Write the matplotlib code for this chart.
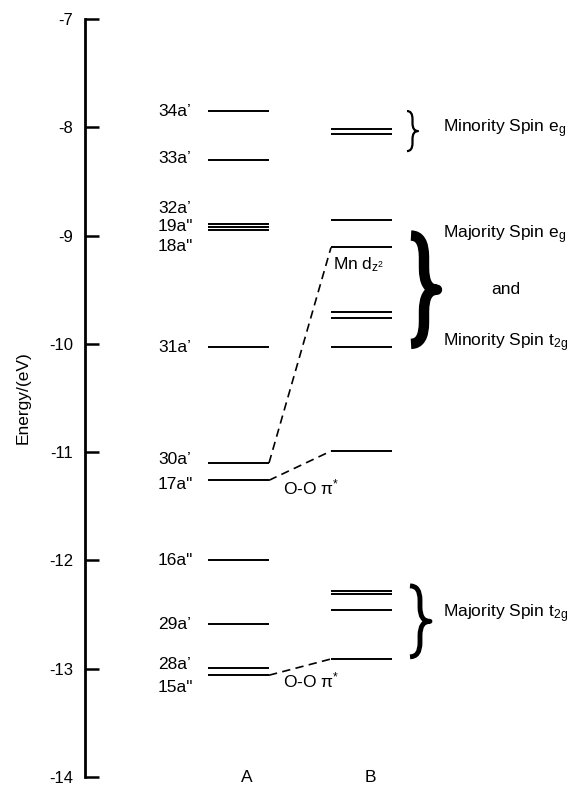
import matplotlib
matplotlib.use('Agg')
import matplotlib.pyplot as plt
from matplotlib.path import Path
from matplotlib.patches import PathPatch

plt.rcParams['font.family'] = ['Liberation Sans', 'DejaVu Sans']
plt.rcParams['mathtext.fontset'] = 'custom'
plt.rcParams['mathtext.rm'] = 'Liberation Sans'
plt.rcParams['mathtext.it'] = 'Liberation Sans:italic'
plt.rcParams['mathtext.bf'] = 'Liberation Sans:bold'

# orbital energies, eV
a_labels = ['34a’', '33a’', '32a’', '19a"', '18a"', '31a’',
            '30a’', '17a"', '16a"', '29a’', '28a’', '15a"']
a_levels = [-7.85, -8.30, -8.89, -8.92, -8.95, -10.03,
            -11.10, -11.26, -12.00, -12.59, -12.99, -13.06]
# where the A labels sit (spread out where levels crowd)
a_label_y = [-7.85, -8.29, -8.75, -8.92, -9.10, -10.03,
             -11.07, -11.30, -12.00, -12.59, -12.965, -13.17]
b_levels = [-8.02, -8.06, -8.86, -9.11, -9.71, -9.76,
            -10.03, -10.99, -12.28, -12.31, -12.46, -12.91]
# correlation lines: (index in A, index in B)
links = [(6, 3), (7, 7), (11, 11)]

yticks = [-7, -8, -9, -10, -11, -12, -13, -14]

# brace groups: (top, bottom, text lines)
groups = [
    (-7.85, -8.22, ['Minority Spin e$_\\mathregular{g}$']),
    (-9.00, -10.00, ['Majority Spin e$_\\mathregular{g}$', 'and',
                     'Minority Spin t$_\\mathregular{2g}$']),
    (-12.235, -12.89, ['Majority Spin t$_\\mathregular{2g}$']),
]

W, H = 572, 785
fig = plt.figure(figsize=(W/100, H/100), dpi=100)
ax = fig.add_axes([85/W, 8/H, (W-85)/W, 758/H])
ax.set_xlim(85, W)
ax.set_ylim(-14, -7)

for s in ['top', 'right', 'bottom']:
    ax.spines[s].set_visible(False)
ax.spines['left'].set_linewidth(2.0)
ax.set_xticks([])
ax.set_yticks(yticks)
ax.set_yticklabels([str(t) for t in yticks])
ax.tick_params(axis='y', direction='in', length=10, width=1.8, pad=8.5, labelsize=12)
ax.set_ylabel('Energy/(eV)', fontsize=12.5, va='center')
ax.yaxis.set_label_coords(-0.127, 0.5)

fs = 12.5
ax_x = (208, 269)
bx_x = (331, 392)

for e in a_levels:
    ax.plot(ax_x, [e, e], color='black', lw=1.4, solid_capstyle='butt')
for e in b_levels:
    ax.plot(bx_x, [e, e], color='black', lw=1.4, solid_capstyle='butt')
for lab, y in zip(a_labels, a_label_y):
    ax.text(158, y, lab, fontsize=fs, ha='left', va='center')

for ia, ib in links:
    ax.plot([ax_x[1], bx_x[0]], [a_levels[ia], b_levels[ib]], color='black',
            lw=1.2, dashes=(5, 3.2))

ax.text(333, -9.27, 'Mn d$_{\\mathregular{z}^{\\mathregular{2}}}$', fontsize=fs,
        ha='left', va='center')
ax.text(283, -11.33, 'O-O π$^{*}$', fontsize=fs, ha='left', va='center')
ax.text(283, -13.11, 'O-O π$^{*}$', fontsize=fs, ha='left', va='center')

ax.text(247, -14.0, 'A', fontsize=fs, ha='center', va='center')
ax.text(370, -14.0, 'B', fontsize=fs, ha='center', va='center')


def brace(x0, tip, ytop, ybot, lw):
    xm = (x0 + tip) / 2
    ym = (ytop + ybot) / 2
    r = (ytop - ybot) * 0.2
    verts = [(x0, ytop), (xm, ytop), (xm, ytop - r),
             (xm, ym + r), (xm, ym), (tip, ym),
             (xm, ym), (xm, ym - r),
             (xm, ybot + r), (xm, ybot), (x0, ybot)]
    codes = [Path.MOVETO, Path.CURVE3, Path.CURVE3, Path.LINETO,
             Path.CURVE3, Path.CURVE3, Path.CURVE3, Path.CURVE3,
             Path.LINETO, Path.CURVE3, Path.CURVE3]
    ax.add_patch(PathPatch(Path(verts, codes), fill=False, lw=lw,
                           capstyle='butt', joinstyle='round'))


brace_geom = [(407, 418, 1.6), (411, 437, 7.5), (410, 430, 3.5)]
for (top, bot, texts), (x0, tip, lw) in zip(groups, brace_geom):
    brace(x0, tip, top, bot, lw)

# brace texts
ax.text(443, -8.01, groups[0][2][0], fontsize=fs, ha='left', va='center')
ax.text(443, -8.99, groups[1][2][0], fontsize=fs, ha='left', va='center')
ax.text(506, -9.50, groups[1][2][1], fontsize=fs, ha='center', va='center')
ax.text(443, -9.99, groups[1][2][2], fontsize=fs, ha='left', va='center')
ax.text(443, -12.49, groups[2][2][0], fontsize=fs, ha='left', va='center')

fig.savefig('out.png', dpi=100)
